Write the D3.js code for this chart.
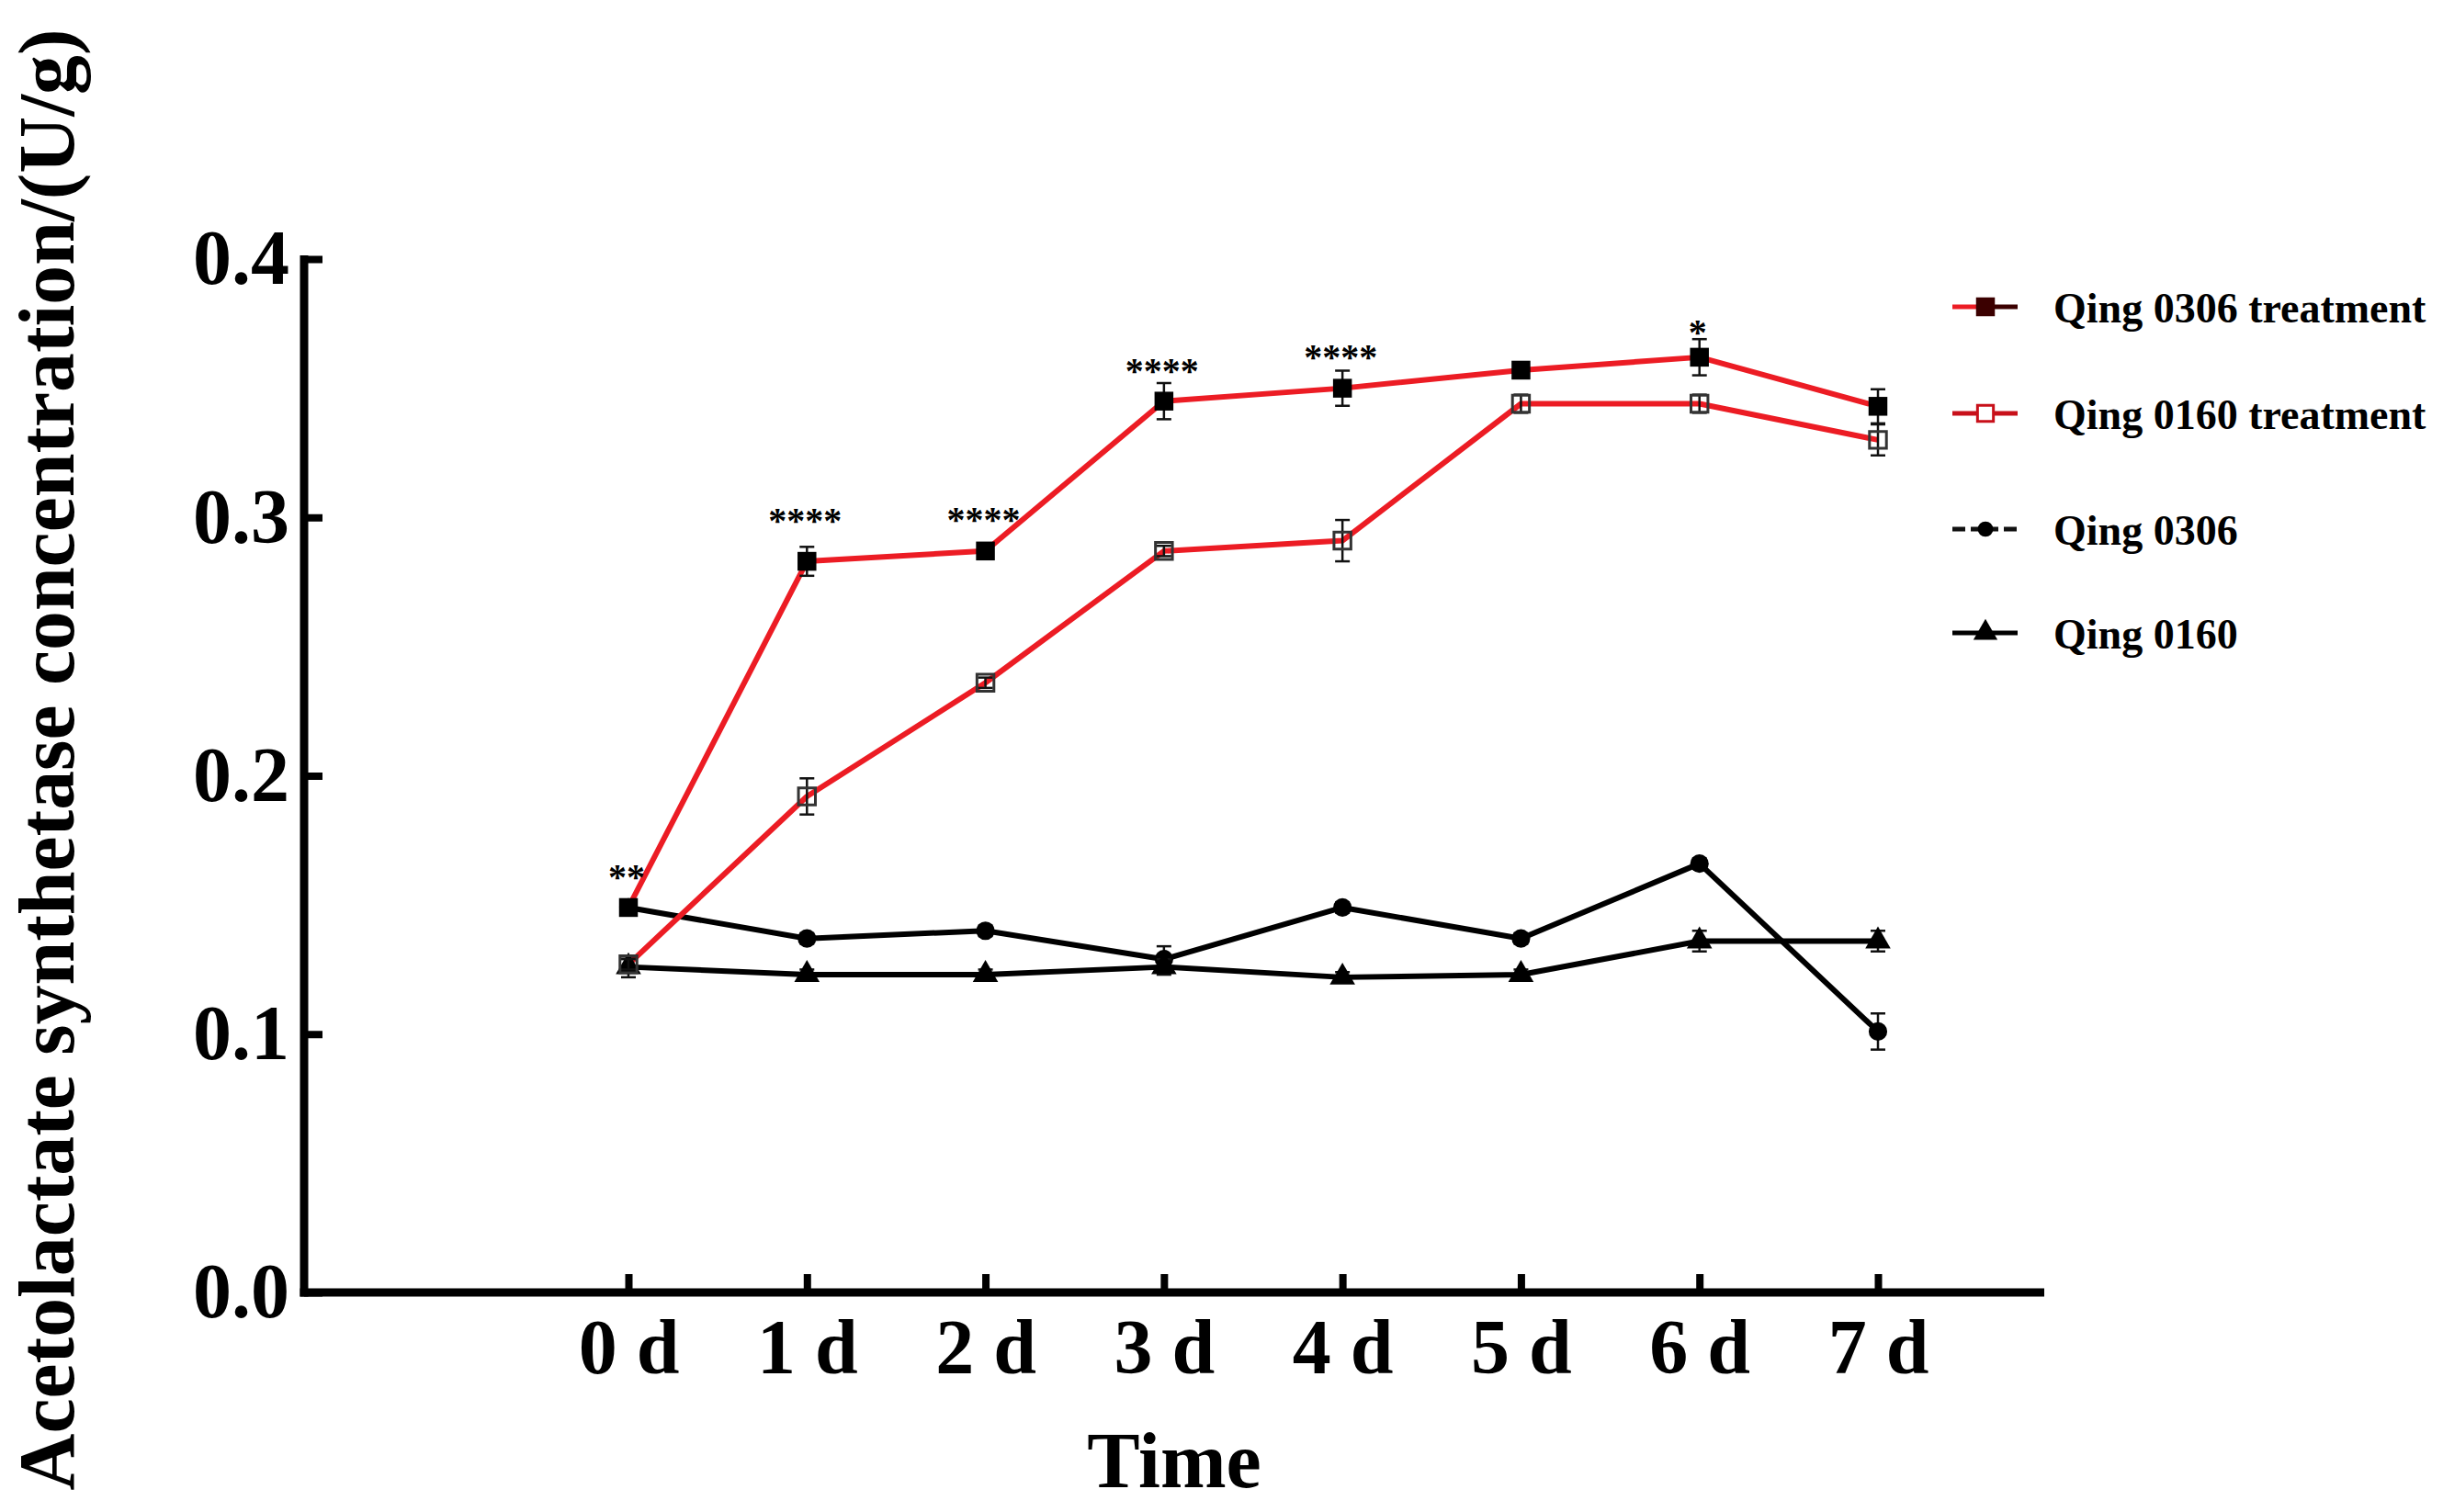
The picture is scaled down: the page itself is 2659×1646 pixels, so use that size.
<!DOCTYPE html>
<html>
<head>
<meta charset="utf-8">
<script src="https://cdn.jsdelivr.net/npm/d3@7"></script>
<style>
  html, body { margin: 0; padding: 0; background: #ffffff; }
  svg { display: block; }
  text { font-family: "Liberation Serif", "Times New Roman", serif; font-weight: bold; fill: #000; }
</style>
</head>
<body>
<svg id="chart" width="2659" height="1646"></svg>
<script>
// ---------- data ----------
const days = ["0 d", "1 d", "2 d", "3 d", "4 d", "5 d", "6 d", "7 d"];
const yTicks = [0.0, 0.1, 0.2, 0.3, 0.4];

const seriesNames = ["Qing 0306 treatment", "Qing 0160 treatment", "Qing 0306", "Qing 0160"];

const q0306Treat    = [0.149, 0.283, 0.287, 0.345, 0.350, 0.357, 0.362, 0.343];
const q0306TreatErr = [0.002, 0.0056, 0.002, 0.007, 0.0068, 0.002, 0.007, 0.0066];
const q0160Treat    = [0.127, 0.192, 0.236, 0.287, 0.291, 0.344, 0.344, 0.330];
const q0160TreatErr = [0.002, 0.007, 0.002, 0.002, 0.008, 0.0035, 0.0035, 0.006];
const q0306         = [0.149, 0.137, 0.140, 0.129, 0.149, 0.137, 0.166, 0.101];
const q0306Err      = [0.002, 0.002, 0.002, 0.005, 0.002, 0.002, 0.002, 0.007];
const q0160         = [0.126, 0.123, 0.123, 0.126, 0.122, 0.123, 0.136, 0.136];
const q0160Err      = [0.004, 0.002, 0.002, 0.003, 0.002, 0.002, 0.004, 0.004];

// significance labels (day index, label, level in data units)
const sigDay   = [0, 1, 2, 3, 4, 6];
const sigLabel = ["**", "****", "****", "****", "****", "*"];
const sigLevel = [0.1628, 0.3008, 0.3012, 0.3588, 0.3641, 0.3737];

const yTitle = "Acetolactate synthetase concentration/(U/g)";
const xTitle = "Time";

// ---------- layout ----------
const W = 2659, H = 1646;
const axisX = 331, axisY = 1407, axisTop = 282, axisRight = 2225;
const firstTickX = 684, lastTickX = 2044;
const RED = "#ec1c24";

const svg = d3.select("#chart");
svg.append("rect").attr("width", W).attr("height", H).attr("fill", "#fff");

const x = d3.scaleLinear().domain([0, days.length - 1]).range([firstTickX, lastTickX]);
const y = d3.scaleLinear().domain([0, 0.4]).range([axisY, axisTop]);

// ---------- axes ----------
const yAxis = d3.axisLeft(y).tickValues(yTicks).tickFormat(d3.format(".1f"))
  .tickSizeInner(-20).tickSizeOuter(0).tickPadding(16);
const gy = svg.append("g").attr("transform", `translate(${axisX},0)`).call(yAxis);
gy.select(".domain").remove();
gy.selectAll(".tick line").attr("stroke", "#000").attr("stroke-width", 8);
gy.selectAll(".tick text").style("font-size", "84px").attr("fill", "#000")
  .style("font-family", '"Liberation Serif", "Times New Roman", serif').style("font-weight", "bold");

const xAxis = d3.axisBottom(x).tickValues(d3.range(days.length)).tickFormat(i => days[i])
  .tickSizeInner(-20).tickSizeOuter(0).tickPadding(28);
const gx = svg.append("g").attr("transform", `translate(0,${axisY})`).call(xAxis);
gx.select(".domain").remove();
gx.selectAll(".tick line").attr("stroke", "#000").attr("stroke-width", 8);
gx.selectAll(".tick text").style("font-size", "84px").attr("fill", "#000")
  .style("font-family", '"Liberation Serif", "Times New Roman", serif').style("font-weight", "bold");

// axis lines
svg.append("line").attr("x1", axisX).attr("x2", axisX)
  .attr("y1", axisY + 4.5).attr("y2", axisTop - 4)
  .attr("stroke", "#000").attr("stroke-width", 9);
svg.append("line").attr("x1", axisX - 4.5).attr("x2", axisRight)
  .attr("y1", axisY).attr("y2", axisY)
  .attr("stroke", "#000").attr("stroke-width", 9);

// axis titles
svg.append("text").attr("x", (axisX + axisRight) / 2 + 0).attr("y", 1619)
  .attr("text-anchor", "middle").style("font-size", "86px").text(xTitle)
  .attr("transform", null);
svg.append("text")
  .attr("transform", "translate(80,827) rotate(-90)")
  .attr("text-anchor", "middle").style("font-size", "86px")
  .attr("textLength", 1591).attr("lengthAdjust", "spacingAndGlyphs")
  .text(yTitle);

// ---------- series ----------
const series = [
  { name: seriesNames[2], vals: q0306, err: q0306Err, color: "#000", width: 6,
    sym: d3.symbolCircle, size: 320, fill: "#000", stroke: "none" },
  { name: seriesNames[3], vals: q0160, err: q0160Err, color: "#000", width: 6,
    sym: d3.symbolTriangle, size: 330, fill: "#000", stroke: "none" },
  { name: seriesNames[1], vals: q0160Treat, err: q0160TreatErr, color: RED, width: 6,
    sym: d3.symbolSquare, size: 340, fill: "none", stroke: "#333" },
  { name: seriesNames[0], vals: q0306Treat, err: q0306TreatErr, color: RED, width: 6,
    sym: d3.symbolSquare, size: 420, fill: "#000", stroke: "none" }
];

const line = d3.line().x((d, i) => x(i)).y(d => y(d));

series.forEach(s => {
  svg.append("path").datum(s.vals).attr("d", line)
    .attr("fill", "none").attr("stroke", s.color).attr("stroke-width", s.width)
    .attr("stroke-linejoin", "round");
});

series.forEach(s => {
  const g = svg.append("g");
  s.vals.forEach((v, i) => {
    const cx = x(i);
    const e = s.err[i];
    // error bar
    g.append("line").attr("x1", cx).attr("x2", cx).attr("y1", y(v - e)).attr("y2", y(v + e))
      .attr("stroke", "#111").attr("stroke-width", 2.5);
    [v - e, v + e].forEach(t => {
      g.append("line").attr("x1", cx - 8).attr("x2", cx + 8).attr("y1", y(t)).attr("y2", y(t))
        .attr("stroke", "#111").attr("stroke-width", 2.5);
    });
    g.append("path").attr("d", d3.symbol().type(s.sym).size(s.size)())
      .attr("transform", `translate(${cx},${y(v)})`)
      .attr("fill", s.fill).attr("stroke", s.stroke).attr("stroke-width", s.stroke === "none" ? 0 : 3);
  });
});

// significance stars
sigDay.forEach((d, k) => {
  svg.append("text").attr("x", x(d) - 2).attr("y", y(sigLevel[k])).attr("dy", "0.48em")
    .attr("text-anchor", "middle").style("font-size", "40px").text(sigLabel[k]);
});

// ---------- legend ----------
const legendRows = [334, 450, 576, 689];
const lgX1 = 2125, lgX2 = 2196, lgMid = 2161, lgText = 2235;
const legendSpec = [
  { left: RED, right: "#3b0000", dash: null, sym: d3.symbolSquare, size: 420, fill: "#3b0000", stroke: "none" },
  { left: "#c8101a", right: "#c8101a", dash: null, sym: d3.symbolSquare, size: 300, fill: "#fff", stroke: "#c8101a" },
  { left: "#111", right: "#111", dash: "14,6", sym: d3.symbolCircle, size: 220, fill: "#000", stroke: "none" },
  { left: "#000", right: "#000", dash: null, sym: d3.symbolTriangle, size: 300, fill: "#000", stroke: "none" }
];
legendSpec.forEach((L, k) => {
  const cy = legendRows[k];
  const g = svg.append("g");
  g.append("line").attr("x1", lgX1).attr("x2", lgMid).attr("y1", cy).attr("y2", cy)
    .attr("stroke", L.left).attr("stroke-width", 5).attr("stroke-dasharray", L.dash);
  g.append("line").attr("x1", lgMid).attr("x2", lgX2).attr("y1", cy).attr("y2", cy)
    .attr("stroke", L.right).attr("stroke-width", 5).attr("stroke-dasharray", L.dash);
  g.append("path").attr("d", d3.symbol().type(L.sym).size(L.size)())
    .attr("transform", `translate(${lgMid},${cy})`)
    .attr("fill", L.fill).attr("stroke", L.stroke).attr("stroke-width", L.stroke === "none" ? 0 : 3);
  g.append("text").attr("x", lgText).attr("y", cy + 17).style("font-size", "46px")
    .text(seriesNames[k]);
});
</script>
</body>
</html>
